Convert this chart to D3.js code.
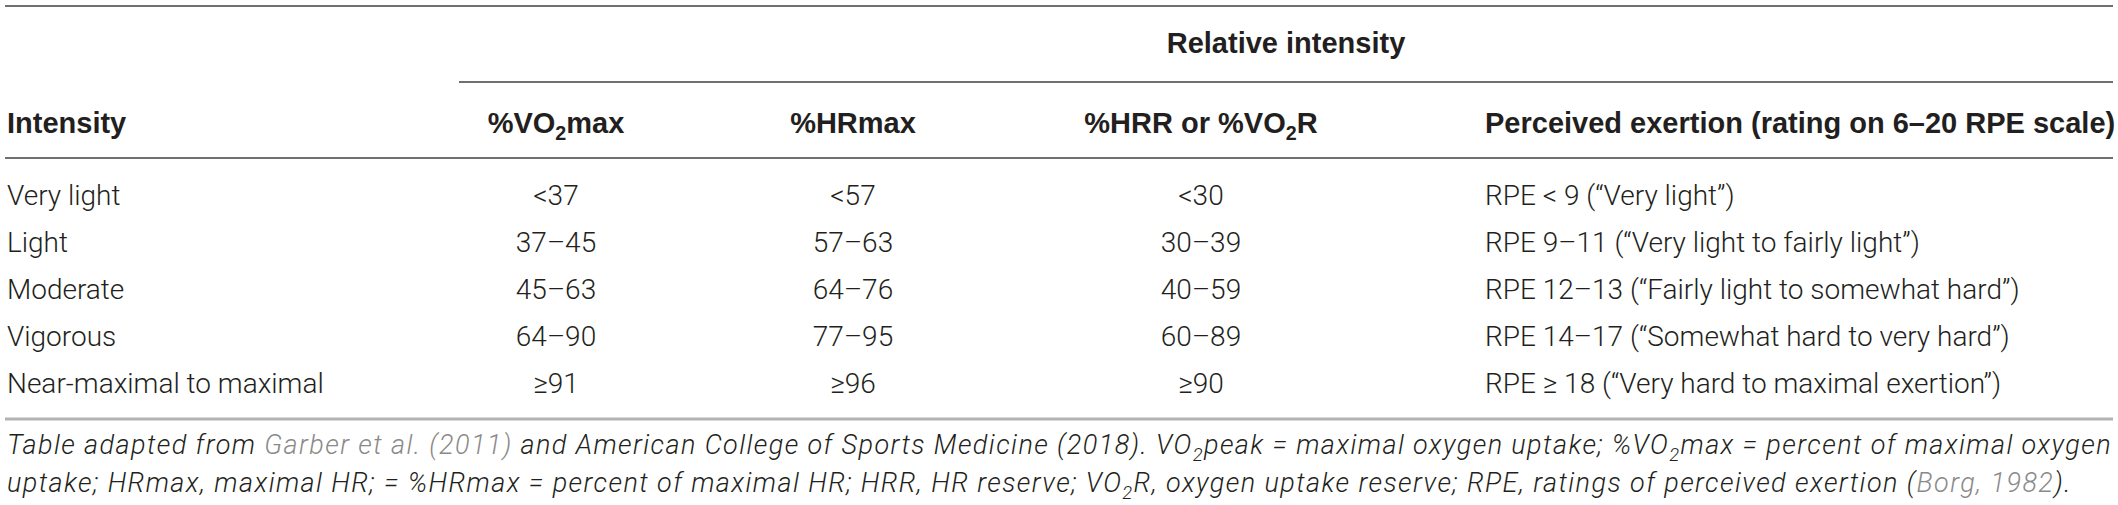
<!DOCTYPE html>
<html>
<head>
<meta charset="utf-8">
<script src="https://cdn.jsdelivr.net/npm/d3@7"></script>
<style>
  body { margin: 0; background: #fff; }
</style>
</head>
<body>
<div id="tbl"></div>
<script>
// table content
const intensities = ["Very light", "Light", "Moderate", "Vigorous", "Near-maximal to maximal"];
const vo2max = ["<37", "37–45", "45–63", "64–90", "≥91"];
const hrmax = ["<57", "57–63", "64–76", "77–95", "≥96"];
const hrr = ["<30", "30–39", "40–59", "60–89", "≥90"];
const rpe = [
  "RPE < 9 (“Very light”)",
  "RPE 9–11 (“Very light to fairly light”)",
  "RPE 12–13 (“Fairly light to somewhat hard”)",
  "RPE 14–17 (“Somewhat hard to very hard”)",
  "RPE ≥ 18 (“Very hard to maximal exertion”)"
];
const groupLabel = "Relative intensity";
const headers = [
  [{t: "Intensity"}],
  [{t: "%VO"}, {t: "2", sub: true}, {t: "max"}],
  [{t: "%HRmax"}],
  [{t: "%HRR or %VO"}, {t: "2", sub: true}, {t: "R"}],
  [{t: "Perceived exertion (rating on 6–20 RPE scale)"}]
];
const captionLines = [
  [{t: "Table adapted from "}, {t: "Garber et al. (2011)", ref: true},
   {t: " and American College of Sports Medicine (2018). VO"}, {t: "2", sub: true},
   {t: "peak = maximal oxygen uptake; %VO"}, {t: "2", sub: true},
   {t: "max = percent of maximal oxygen"}],
  [{t: "uptake; HRmax, maximal HR; = %HRmax = percent of maximal HR; HRR, HR reserve; VO"}, {t: "2", sub: true},
   {t: "R, oxygen uptake reserve; RPE, ratings of perceived exertion ("}, {t: "Borg, 1982", ref: true}, {t: ")."}]
];

const width = 2118, height = 505;
const left = 7, right = 2113;

const cols = ["intensity", "vo2", "hr", "hrr", "rpe"];
const colData = [intensities, vo2max, hrmax, hrr, rpe];

const x = d3.scaleOrdinal().domain(cols).range([left, 556, 853, 1201, 1485]);
const anchor = d3.scaleOrdinal().domain(cols).range(["start", "middle", "middle", "middle", "start"]);

const y = d3.scaleBand()
  .domain(intensities)
  .range([171.5, 406.5]);

const bodyFont = "Roboto, 'Liberation Sans', sans-serif";
const headFont = "'Liberation Sans', Arial, sans-serif";

const svg = d3.select("#tbl")
  .append("svg")
    .attr("width", width)
    .attr("height", height);

// rich text: parts with subscripts
function rich(sel, parts, size) {
  let shift = 0;
  parts.forEach(p => {
    const ts = sel.append("tspan").text(p.t);
    if (p.sub) {
      ts.attr("font-size", size * 0.68).attr("dy", size * 0.24);
      shift = -size * 0.24;
    } else if (shift) {
      ts.attr("dy", shift);
      shift = 0;
    }
    if (p.ref) ts.attr("fill", "#8a8a8a");
  });
}

// rules
const rules = [
  {y: 6, x1: left - 2, x2: right, c: "#707070", w: 2},
  {y: 82, x1: 459, x2: right, c: "#707070", w: 2},
  {y: 158, x1: left - 2, x2: right, c: "#707070", w: 2},
  {y: 419, x1: left - 2, x2: right, c: "#b3b3b3", w: 3}
];
svg.append("g")
  .selectAll("line")
  .data(rules)
  .join("line")
    .attr("x1", d => d.x1)
    .attr("x2", d => d.x2)
    .attr("y1", d => d.y)
    .attr("y2", d => d.y)
    .attr("stroke", d => d.c)
    .attr("stroke-width", d => d.w);

// group header
svg.append("text")
  .attr("x", (459 + right) / 2)
  .attr("y", 43)
  .attr("dy", "0.35em")
  .attr("text-anchor", "middle")
  .attr("font-family", headFont)
  .attr("font-weight", "bold")
  .attr("font-size", 29)
  .attr("fill", "#231f20")
  .text(groupLabel);

// column headers
svg.append("g")
  .selectAll("text")
  .data(cols)
  .join("text")
    .attr("x", d => x(d))
    .attr("y", 123)
    .attr("dy", "0.35em")
    .attr("text-anchor", d => anchor(d))
    .attr("font-family", headFont)
    .attr("font-weight", "bold")
    .attr("font-size", 29)
    .attr("fill", "#231f20")
    .each(function(d, i) { rich(d3.select(this), headers[i], 29); });

// body cells
const cells = [];
cols.forEach((c, ci) => {
  intensities.forEach((r, ri) => cells.push({col: c, row: r, v: colData[ci][ri]}));
});

svg.append("g")
    .attr("font-family", bodyFont)
    .attr("font-weight", 300)
    .attr("font-size", 28)
    .attr("fill", "#231f20")
  .selectAll("text")
  .data(cells)
  .join("text")
    .attr("x", d => x(d.col))
    .attr("y", d => y(d.row) + y.bandwidth() / 2)
    .attr("dy", "0.35em")
    .attr("text-anchor", d => anchor(d.col))
    .text(d => d.v);

// caption
const capY = [445, 483];
const capSize = 27;
const cap = svg.append("g")
  .attr("font-family", bodyFont)
  .attr("font-weight", 300)
  .attr("font-style", "italic")
  .attr("font-size", capSize)
  .attr("fill", "#231f20");

const capText = captionLines.map((parts, i) => {
  const t = cap.append("text")
    .attr("x", left)
    .attr("y", capY[i])
    .attr("dy", "0.35em");
  rich(t, parts, capSize);
  return t;
});

// widen letters so the last line ends where the original does, then justify the first line
const last = capText[1];
const nChars = captionLines[1].map(p => p.t).join("").length;
const ls = (2072 - left - last.node().getBBox().width) / nChars;
cap.attr("letter-spacing", ls);
const first = capText[0];
const spaces = captionLines[0].map(p => p.t).join("").split(" ").length - 1;
const ws = (right - 1 - left - first.node().getBBox().width) / spaces;
first.attr("word-spacing", ws);
</script>
</body>
</html>
